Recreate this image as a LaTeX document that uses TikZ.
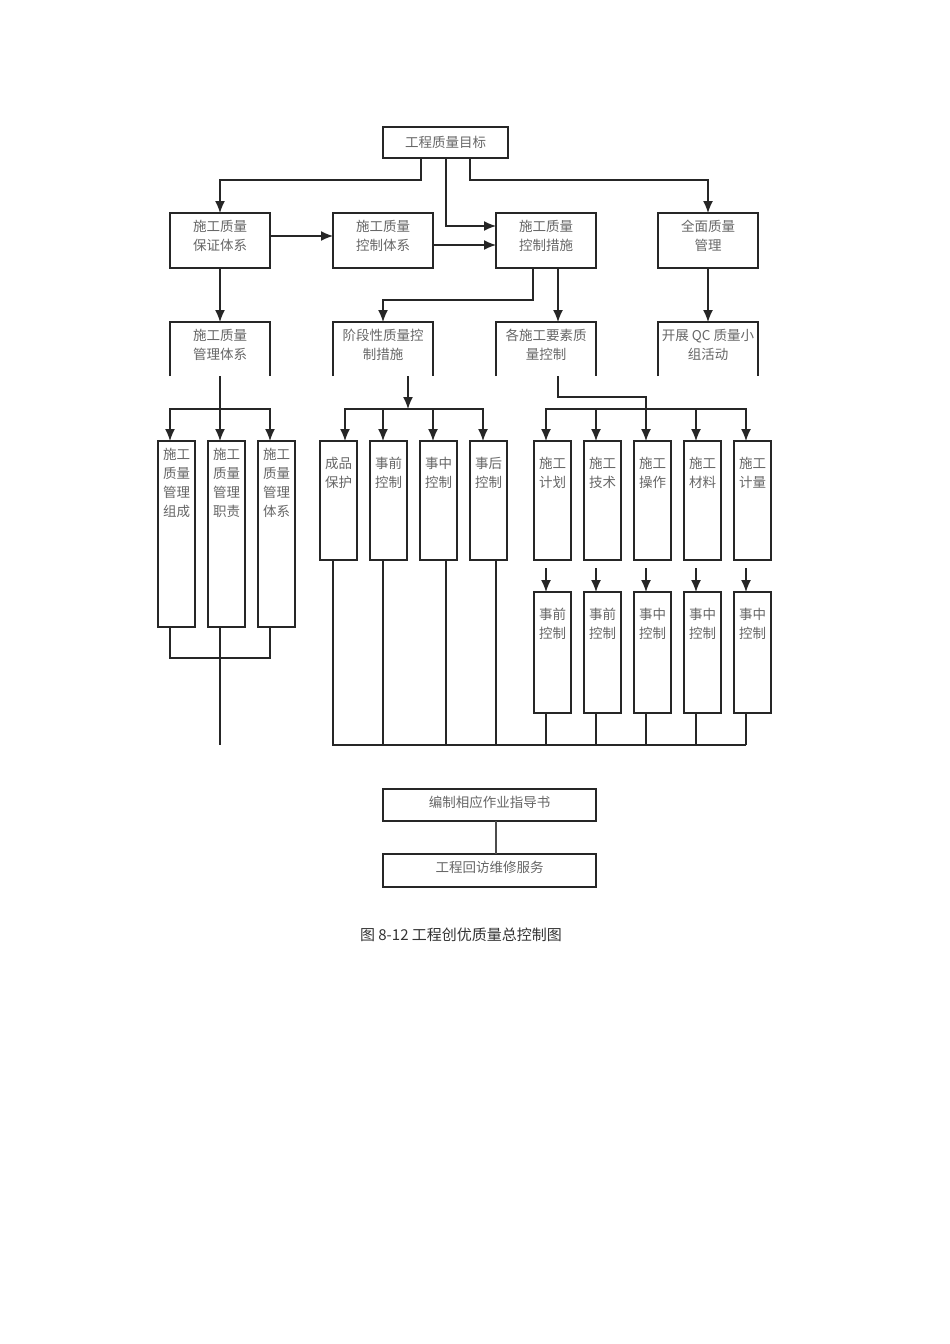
\documentclass[tikz,border=0pt]{standalone}
\usepackage{fontspec}
\setmainfont{Noto Sans CJK SC}
\usetikzlibrary{arrows.meta,positioning}

\tikzset{
  line/.style={draw=black!85, line width=1.4pt},
  arr/.style={line, -{Latex[length=12pt,width=10pt]}},
  box/.style={line, inner sep=0pt, outer sep=0pt, minimum width=100pt, minimum height=55pt},
  tall/.style={line, inner sep=0pt, outer sep=0pt, minimum width=37pt},
  txt/.style={inner sep=0pt, align=center, text=black!60,
    font=\fontsize{13.5}{19}\selectfont}
}

\begin{document}
\begin{tikzpicture}[x=1pt,y=-1pt]
  \useasboundingbox (0,0) rectangle (950,1344);
  % top and second row
  \node[box, minimum width=125pt, minimum height=31pt] (mb) at (445.5,142.5) {};
  \node[txt] at (mb) {工程质量目标};
  \foreach \n/\x/\t in {bz/220/{施工质量\\保证体系}, kt/383/{施工质量\\控制体系},
      cs/546/{施工质量\\控制措施}, qm/708/{全面质量\\管理}} {
    \node[box] (\n) at (\x,240.5) {};
    \node[txt] at ([yshift=4.5pt]\n.center) {\t};
  }
  % third row, boxes open at the bottom
  \foreach \n/\x/\t in {gl/220/{施工质量\\管理体系}, jd/383/{阶段性质量控\\制措施},
      ys/546/{各施工要素质\\量控制}, qc/708/{开展 QC 质量小\\组活动}} {
    \node[box, draw=none, minimum height=54pt] (\n) at (\x,349) {};
    \draw[line] (\n.south west) -- (\n.north west) -- (\n.north east) -- (\n.south east);
    \node[txt] at ([yshift=4.5pt]\n.center) {\t};
  }
  % tall boxes
  \foreach \n/\x/\t in {q1/176.5/组成, q2/226.5/职责, q3/276.5/体系} {
    \node[tall, minimum height=186pt] (\n) at (\x,534) {};
    \node[txt, below=7pt of \n.north] {施工\\质量\\管理\\\t};
  }
  \foreach \n/\x/\t in {m1/338.5/{成品\\保护}, m2/388.5/{事前\\控制}, m3/438.5/{事中\\控制},
      m4/488.5/{事后\\控制}, r1/552.5/{施工\\计划}, r2/602.5/{施工\\技术},
      r3/652.5/{施工\\操作}, r4/702.5/{施工\\材料}, r5/752.5/{施工\\计量}} {
    \node[tall, minimum height=119pt] (\n) at (\x,500.5) {};
    \node[txt, below=16pt of \n.north] {\t};
  }
  \foreach \n/\x/\t in {s1/552.5/前, s2/602.5/前, s3/652.5/中, s4/702.5/中, s5/752.5/中} {
    \node[tall, minimum height=121pt] (\n) at (\x,652.5) {};
    \node[txt, below=16pt of \n.north] {事\t\\控制};
  }
  % bottom boxes and caption
  \node[box, minimum width=213pt, minimum height=32pt] (zd) at (489.5,805) {};
  \node[txt] at ([yshift=3pt]zd.center) {编制相应作业指导书};
  \node[box, minimum width=213pt, minimum height=33pt] (hf) at (489.5,870.5) {};
  \node[txt] at ([yshift=3pt]hf.center) {工程回访维修服务};
  \node[font=\fontsize{15}{18}\selectfont, text=black!80] (cap) at (461,935) {图 8-12 工程创优质量总控制图};

  \coordinate (lbus) at (220,409);
  \coordinate (mbus) at (408,409);
  \coordinate (rbus) at (646,409);
  \coordinate (br) at (746,745);

  % connectors, upper part
  \draw[arr] ([xshift=-24.5pt]mb.south) -- ++(0,22) -| (bz.north);
  \draw[arr] ([xshift=24.5pt]mb.south) -- ++(0,22) -| (qm.north);
  \draw[arr] ([xshift=0.5pt]mb.south) |- ([yshift=14.5pt]cs.west);
  \draw[arr] ([yshift=4.5pt]bz.east) -- ([yshift=4.5pt]kt.west);
  \draw[arr] ([yshift=-4.5pt]kt.east) -- ([yshift=-4.5pt]cs.west);
  \draw[arr] (bz.south) -- (gl.north);
  \draw[arr] ([xshift=-13pt]cs.south) -- ++(0,32) -| (jd.north);
  \draw[arr] ([xshift=12pt]cs.south) -- ([xshift=12pt]ys.north);
  \draw[arr] (qm.south) -- (qc.north);

  % left group
  \draw[arr] (gl.south) -- ([xshift=-6.5pt]q2.north);
  \draw[arr] (lbus) -| ([xshift=-6.5pt]q1.north);
  \draw[arr] (lbus) -| ([xshift=-6.5pt]q3.north);
  \draw[line] ([xshift=-6.5pt]q1.south) -- ++(0,31) -| ([xshift=-6.5pt]q3.south);
  \draw[line] ([xshift=-6.5pt]q2.south) -- ++(0,118);

  % middle group
  \draw[arr] ([xshift=25pt]jd.south) -- (mbus);
  \foreach \n/\d in {m1/6.5, m2/-5.5, m3/-5.5, m4/-5.5}
    \draw[arr] (mbus) -| ([xshift=\d pt]\n.north);
  \foreach \n/\d in {m1/-5.5, m2/-5.5, m3/7.5, m4/7.5}
    \draw[line] ([xshift=\d pt]\n.south) |- (br);

  % right group
  \draw[line] ([xshift=12pt]ys.south) -- ++(0,21) -| (rbus);
  \foreach \n/\s in {r1/s1, r2/s2, r3/s3, r4/s4, r5/s5} {
    \draw[arr] (rbus) -| ([xshift=-6.5pt]\n.north);
    \draw[arr] ([xshift=-6.5pt,yshift=-8pt]\n.south) -- ([xshift=-6.5pt]\s.north);
    \draw[line] ([xshift=-6.5pt]\s.south) |- (br);
  }

  \draw[line, draw=black!70] ([xshift=6.5pt]zd.south) -- ([xshift=6.5pt]hf.north);
\end{tikzpicture}
\end{document}
